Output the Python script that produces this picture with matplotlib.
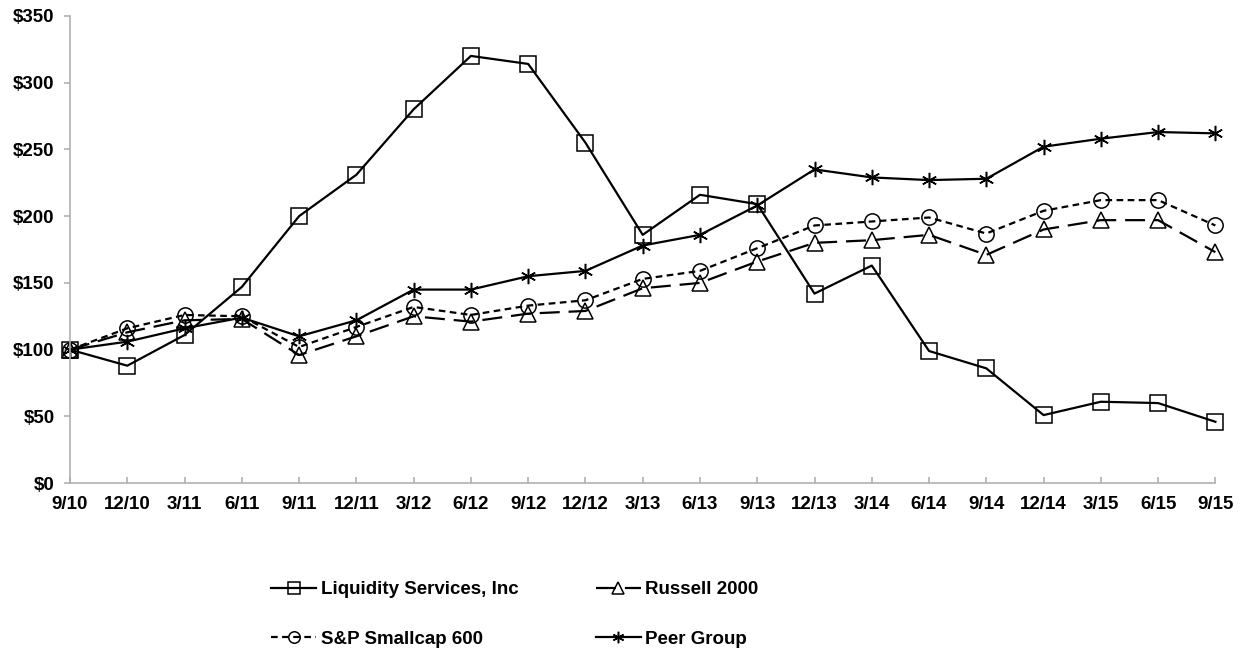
import numpy as np
import matplotlib.pyplot as plt
from matplotlib.ticker import FuncFormatter

plt.rcParams['font.family'] = ['Liberation Sans', 'DejaVu Sans']
plt.rcParams['font.weight'] = 'bold'

dates = ['9/10', '12/10', '3/11', '6/11', '9/11', '12/11', '3/12', '6/12', '9/12', '12/12',
         '3/13', '6/13', '9/13', '12/13', '3/14', '6/14', '9/14', '12/14', '3/15', '6/15', '9/15']

liquidity = [100, 88, 111, 147, 200, 231, 280, 320, 314, 255,
             186, 216, 209, 142, 163, 99, 86, 51, 61, 60, 46]
russell = [100, 113, 122, 123, 96, 110, 125, 121, 127, 129,
           146, 150, 166, 180, 182, 186, 171, 190, 197, 197, 173]
sp600 = [100, 116, 126, 125, 102, 117, 132, 126, 133, 137,
         153, 159, 176, 193, 196, 199, 187, 204, 212, 212, 193]
peer = [100, 106, 116, 124, 110, 122, 145, 145, 155, 159,
        178, 186, 208, 235, 229, 227, 228, 252, 258, 263, 262]

fig = plt.figure(figsize=(12.44, 6.61), dpi=100)
ax = fig.add_axes([0.0563, 0.269, 0.9207, 0.707])

x = np.arange(len(dates))
asterisk = (6, 2, 0)
kw = dict(color='black', linewidth=1.6, markersize=11, markerfacecolor='none',
          markeredgecolor='black', markeredgewidth=1.1, clip_on=False)

ax.plot(x, liquidity, linestyle='-', marker='s', label='Liquidity Services, Inc', **kw)
ax.plot(x, russell, linestyle=(0, (9, 4)), marker='^', label='Russell 2000', **kw)
ax.plot(x, sp600, linestyle=(0, (3, 2)), marker='o', label='S&P Smallcap 600', **kw)
ax.plot(x, peer, linestyle='-', marker=asterisk, label='Peer Group', **kw)

ax.set_xlim(0, 20)
ax.set_ylim(0, 350)
ax.set_yticks(range(0, 351, 50))
ax.yaxis.set_major_formatter(FuncFormatter(lambda v, p: '$%d' % v))
ax.set_xticks(x)
ax.set_xticklabels(dates)

for s in ['top', 'right']:
    ax.spines[s].set_visible(False)
for s in ['left', 'bottom']:
    ax.spines[s].set_color('#b0b0b0')
    ax.spines[s].set_linewidth(1.2)
ax.tick_params(colors='#b0b0b0', labelcolor='black', labelsize=13.5, length=4, width=1.2)
ax.tick_params(axis='x', direction='in', pad=9)
ax.tick_params(axis='y', direction='out', pad=7)
for lbl in ax.get_xticklabels() + ax.get_yticklabels():
    lbl.set_fontweight('bold')

handles, labels = ax.get_legend_handles_labels()
order = [0, 2, 1, 3]
leg = fig.legend([handles[i] for i in order], [labels[i] for i in order],
                 loc='lower left', bbox_to_anchor=(0.2106, 0.006), ncol=2, frameon=False,
                 fontsize=13.5, handlelength=2.4, handletextpad=0.25, columnspacing=4.1,
                 labelspacing=1.73, borderpad=0, markerscale=0.75)
for t in leg.get_texts():
    t.set_fontweight('bold')

fig.savefig('out.png', dpi=100)
